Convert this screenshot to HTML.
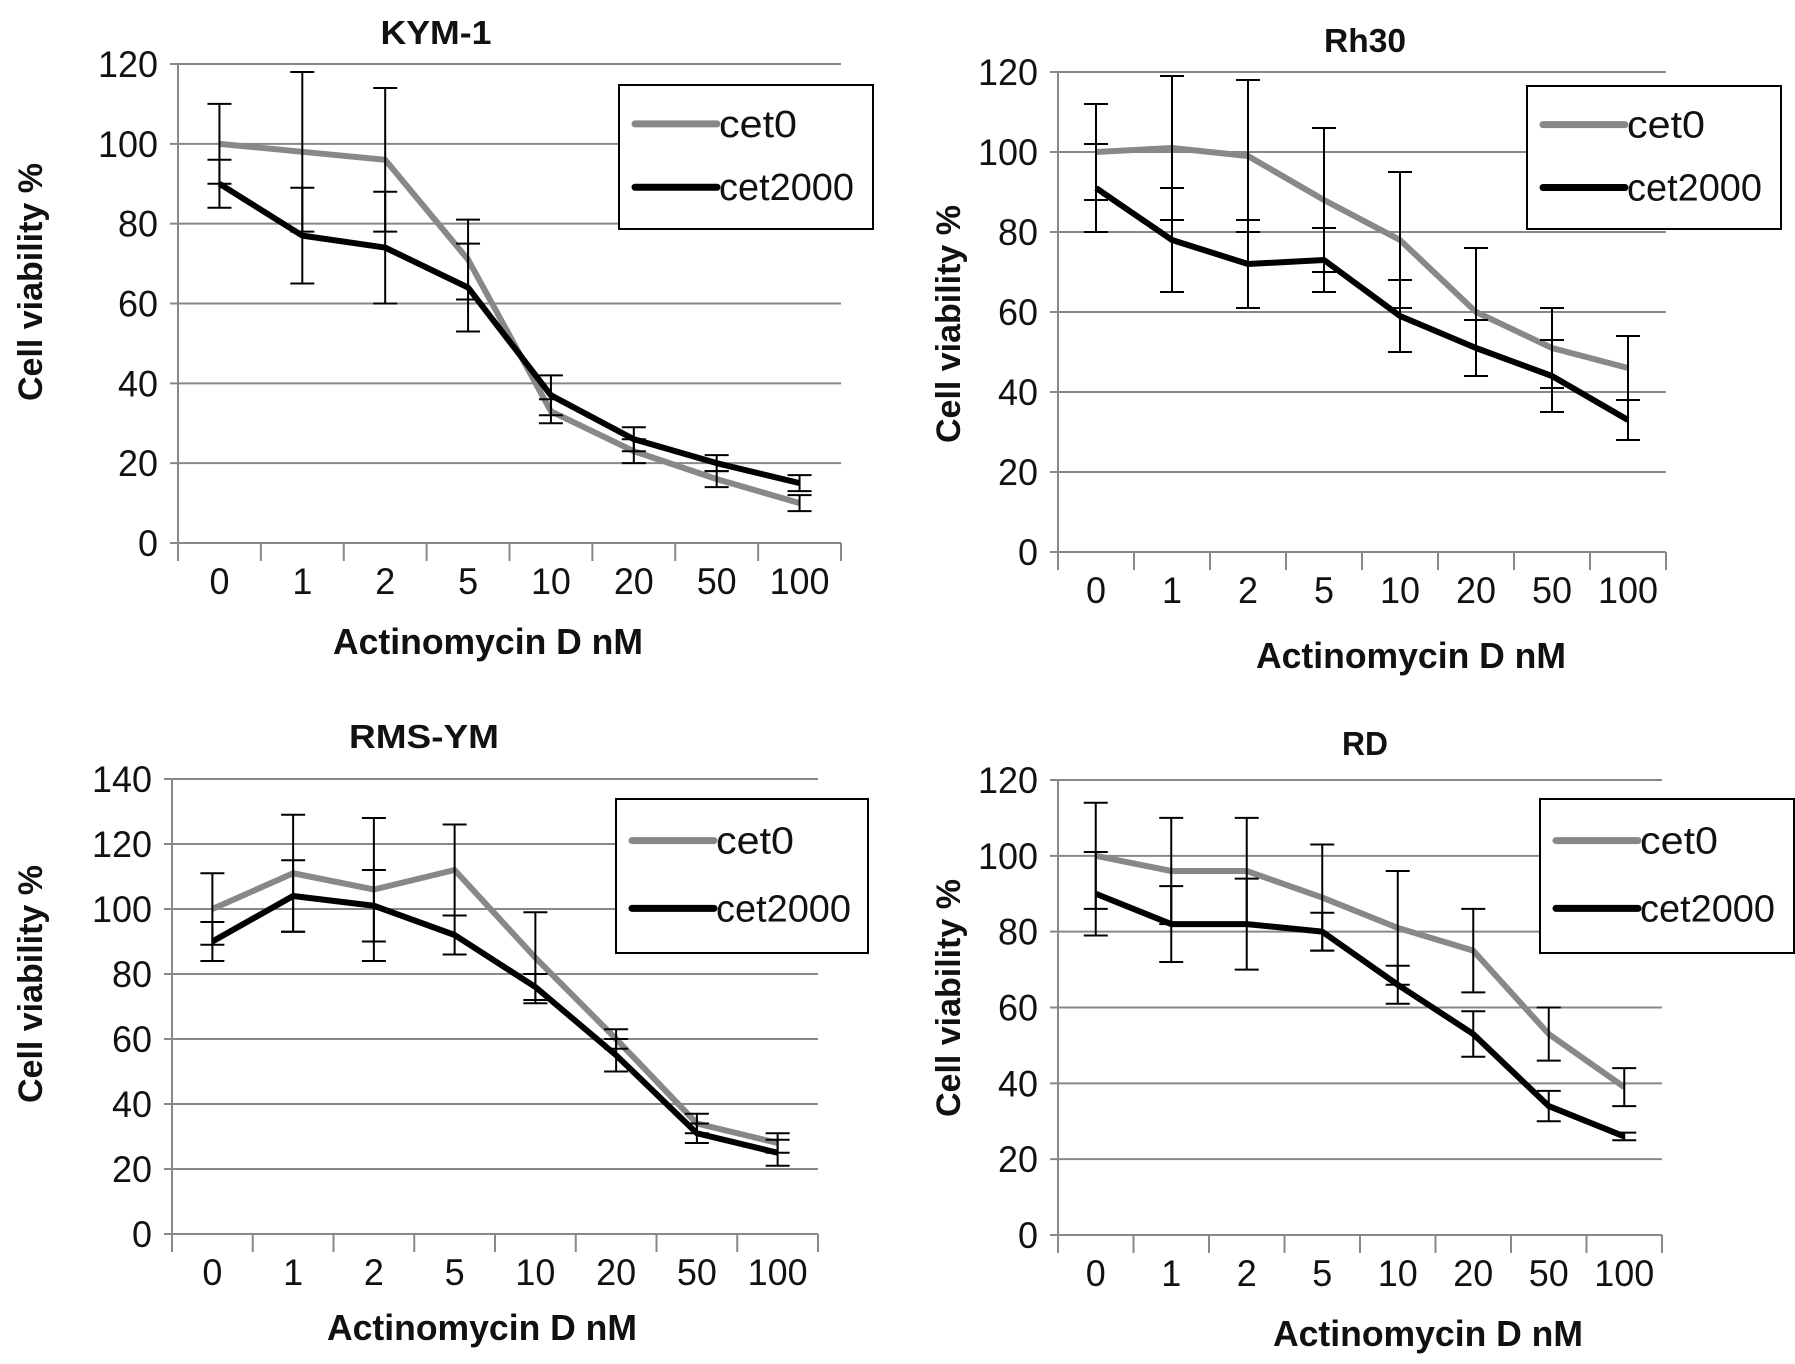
<!DOCTYPE html>
<html><head><meta charset="utf-8"><style>
body{margin:0;background:#fff;}
svg{display:block;font-family:"Liberation Sans Narrow","Liberation Sans",sans-serif;}
</style></head><body>
<svg id="fig" width="1795" height="1364" viewBox="0 0 1795 1364" xmlns="http://www.w3.org/2000/svg"></svg>
<script>
const categories = ["0","1","2","5","10","20","50","100"];
const kymCet0 = [100,98,96,71,33,23,16,10];
const kymCet0Err = [10,20,18,10,3,3,2,2];
const kymCet2000 = [90,77,74,64,37,26,20,15];
const kymCet2000Err = [6,12,14,11,5,3,2,2];
const rhCet0 = [100,101,99,88,78,60,51,46];
const rhCet0Err = [12,18,19,18,17,16,10,8];
const rhCet2000 = [91,78,72,73,59,51,44,33];
const rhCet2000Err = [11,13,11,8,9,7,9,5];
const rmsCet0 = [100,111,106,112,85,60,34,28];
const rmsCet0Err = [11,18,22,14,14,3,3,3];
const rmsCet2000 = [90,104,101,92,76,55,31,25];
const rmsCet2000Err = [6,11,11,6,4,5,3,4];
const rdCet0 = [100,96,96,89,81,75,53,39];
const rdCet0Err = [14,14,14,14,15,11,7,5];
const rdCet2000 = [90,82,82,80,66,53,34,26];
const rdCet2000Err = [11,10,12,5,5,6,4,1];
const ticks120 = [0,20,40,60,80,100,120];
const ticks140 = [0,20,40,60,80,100,120,140];

const NS="http://www.w3.org/2000/svg";
const svg=document.getElementById('fig');
function mk(tag,attrs,parent,text){const e=document.createElementNS(NS,tag);for(const k in attrs)e.setAttribute(k,attrs[k]);if(text!==undefined)e.textContent=text;(parent||svg).appendChild(e);return e;}

const panels=[
 {key:"kym",title:"KYM-1",tw:111,x0:178,x1:841,y0:543,yTop:64,max:120,ticks:ticks120,c0:kymCet0,e0:kymCet0Err,c1:kymCet2000,e1:kymCet2000Err,tx:436,ty:44,lg:[619,85,254,144],xt:488,xty:654,ytx:42,yty:282},
 {key:"rh30",title:"Rh30",tw:82,x0:1058,x1:1666,y0:552,yTop:72,max:120,ticks:ticks120,c0:rhCet0,e0:rhCet0Err,c1:rhCet2000,e1:rhCet2000Err,tx:1365,ty:52,lg:[1527,86,254,143],xt:1411,xty:668,ytx:960,yty:324},
 {key:"rms",title:"RMS-YM",tw:150,x0:172,x1:818,y0:1234,yTop:779,max:140,ticks:ticks140,c0:rmsCet0,e0:rmsCet0Err,c1:rmsCet2000,e1:rmsCet2000Err,tx:424,ty:748,lg:[616,799,252,154],xt:482,xty:1340,ytx:42,yty:984},
 {key:"rd",title:"RD",tw:46,x0:1058,x1:1662,y0:1235,yTop:780,max:120,ticks:ticks120,c0:rdCet0,e0:rdCet0Err,c1:rdCet2000,e1:rdCet2000Err,tx:1365,ty:755,lg:[1540,799,254,154],xt:1428,xty:1346,ytx:960,yty:998}
];

panels.forEach(p=>{
  const g=mk('g',{});
  
  
  const n=categories.length, bw=(p.x1-p.x0)/n;
  const X=i=>p.x0+bw*(i+0.5);
  const Y=v=>p.y0-(v/p.max)*(p.y0-p.yTop);
  p.ticks.forEach(t=>{
    const l=mk('line',{x1:p.x0-8,x2:p.x1,y1:Y(t),y2:Y(t),stroke:'#888','stroke-width':2},g);
    
    
    const s=String(t);
    const tx=mk('text',{x:p.x0-20,y:Y(t)+13,'text-anchor':'end','font-size':37,fill:'#111',textLength:s.length*20,lengthAdjust:'spacingAndGlyphs'},g,s);
    
    
  });
  const ya=mk('line',{x1:p.x0,x2:p.x0,y1:p.yTop,y2:p.y0+18,stroke:'#888','stroke-width':2},g);
  
  
  for(let i=1;i<=n;i++){
    const tk=mk('line',{x1:p.x0+bw*i,x2:p.x0+bw*i,y1:p.y0,y2:p.y0+18,stroke:'#888','stroke-width':2},g);
    
    
  }
  categories.forEach((c,i)=>{
    const t=mk('text',{x:X(i),y:p.y0+51,'text-anchor':'middle','font-size':37,fill:'#111',textLength:c.length*20,lengthAdjust:'spacingAndGlyphs'},g,c);
    
    
  });
  [[p.c0,p.e0,'#888','cet0'],[p.c1,p.e1,'#000','cet2000']].forEach(([vals,errs,col,name])=>{
    const pl=mk('polyline',{points:vals.map((v,i)=>X(i)+','+Y(v)).join(' '),fill:'none',stroke:col,'stroke-width':6,'stroke-linejoin':'round'},g);
    
    
    vals.forEach((v,i)=>{
      const eg=mk('g',{stroke:'#000','stroke-width':2},g);
      
      
      mk('line',{x1:X(i),x2:X(i),y1:Y(v+errs[i]),y2:Y(v-errs[i])},eg);
      mk('line',{x1:X(i)-12,x2:X(i)+12,y1:Y(v+errs[i]),y2:Y(v+errs[i])},eg);
      mk('line',{x1:X(i)-12,x2:X(i)+12,y1:Y(v-errs[i]),y2:Y(v-errs[i])},eg);
    });
  });
  const tt=mk('text',{x:p.tx,y:p.ty,'text-anchor':'middle','font-size':33,'font-weight':'bold',fill:'#111',textLength:p.tw,lengthAdjust:'spacingAndGlyphs'},g,p.title);
  
  
  const xt=mk('text',{x:p.xt,y:p.xty,'text-anchor':'middle','font-size':36,'font-weight':'bold',fill:'#111',textLength:310,lengthAdjust:'spacingAndGlyphs'},g,'Actinomycin D nM');
  
  
  const yt=mk('text',{x:p.ytx,y:p.yty,'text-anchor':'middle','font-size':34,'font-weight':'bold',fill:'#111',textLength:238,lengthAdjust:'spacingAndGlyphs',transform:`rotate(-90 ${p.ytx} ${p.yty})`},g,'Cell viability %');
  
  
  const [lx,ly,lw,lh]=p.lg;
  const lg=mk('g',{},g);
  
  
  mk('rect',{x:lx,y:ly,width:lw,height:lh,fill:'#fff',stroke:'#000','stroke-width':2},lg);
  [['cet0','#888',0.27,78],['cet2000','#000',0.71,135]].forEach(([nm,col,f,w])=>{
    const yy=ly+lh*f;
    const le=mk('g',{},lg);
    
    
    mk('line',{x1:lx+16,x2:lx+98,y1:yy,y2:yy,stroke:col,'stroke-width':7,'stroke-linecap':'round'},le);
    mk('text',{x:lx+100,y:yy+13,'font-size':38,fill:'#111',textLength:w,lengthAdjust:'spacingAndGlyphs'},le,nm);
  });
});
</script>
</body></html>
